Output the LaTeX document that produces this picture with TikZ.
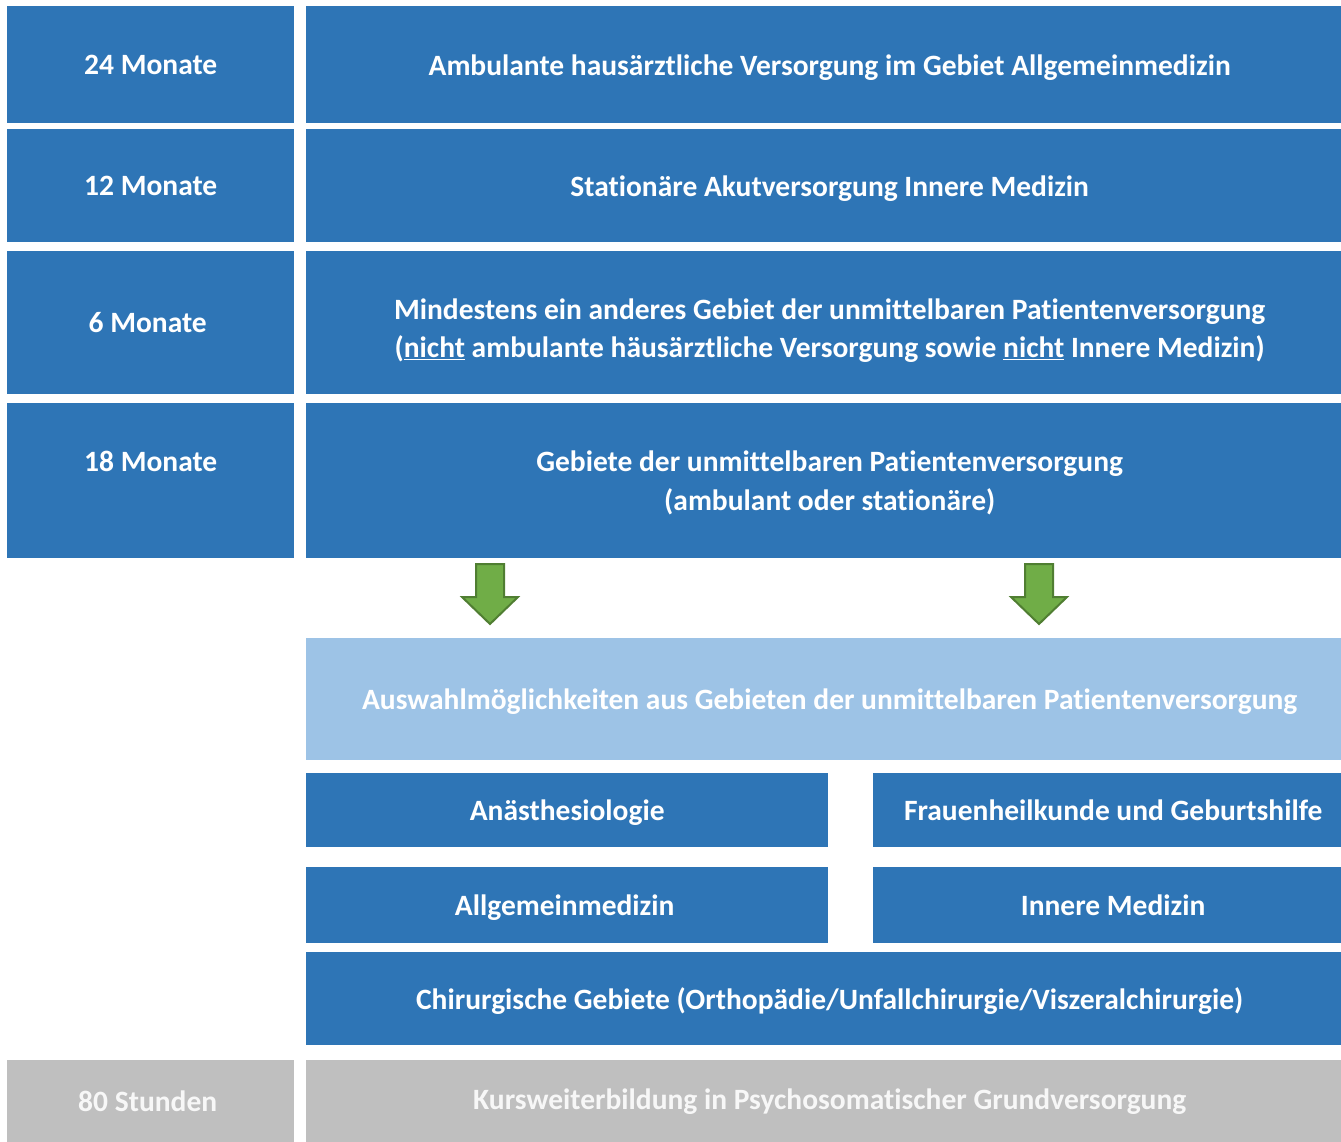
\documentclass[tikz,border=0pt]{standalone}
\usepackage{fontspec}
\setmainfont{Carlito}[Ligatures=NoCommon]
\usepackage{xcolor}
\usepackage{tikz}

\definecolor{blau}{HTML}{2E75B6}
\definecolor{hellblau}{HTML}{9DC3E6}
\definecolor{grau}{HTML}{BFBFBF}
\definecolor{gruen}{HTML}{70AD47}
\definecolor{gruenrand}{HTML}{507E32}

\newcommand{\rein}{\hspace*{12pt}} % Text etwas nach rechts

\begin{document}
\begin{tikzpicture}[
                x=1pt, y=-1pt,                % 1 Pixel = 1pt
                every node/.style={
                    rectangle,
                    anchor=north west,
                    inner sep=0pt,
                    text=white,
                    text depth=0pt,
                    align=center,
                    font=\fontsize{29.5}{38.5}\selectfont\bfseries
                },
                feld/.style={fill=blau},
                auswahl/.style={fill=hellblau},
                kurs/.style={fill=grau, text=white!97!black},
                pfeil/.style={fill=gruen, draw=gruenrand, line width=2pt}
            ]
                \useasboundingbox (0,0) rectangle (1341,1142);

                % linke Spalte
                \node[feld, minimum width=287, minimum height=117] (m24) at (7,6) {24 Monate};
                \node[feld, minimum width=287, minimum height=113] (m12) at (7,129) {12 Monate};
                \node[feld, minimum width=287, minimum height=143] (m6) at (7,251) {\hspace*{-6pt}6 Monate};
                \node[feld, minimum width=287, minimum height=155] (m18) at (7,403) {18 Monate\\\mbox{}}; % Text oben
                \node[kurs, minimum width=287, minimum height=82] (s80) at (7,1060) {\hspace*{-6pt}80 Stunden};

                % rechte Spalte
                \node[feld, minimum width=1035, minimum height=117] (amb) at (306,6) {\rein Ambulante hausärztliche Versorgung im Gebiet Allgemeinmedizin};
                \node[feld, minimum width=1035, minimum height=113] (stat) at (306,129) {\rein Stationäre Akutversorgung Innere Medizin};
                \node[feld, minimum width=1035, minimum height=143] (mind) at (306,251) {\rein\rule{0pt}{32pt}Mindestens ein anderes Gebiet der unmittelbaren Patientenversorgung\\\rein(\underline{nicht} ambulante häusärztliche Versorgung sowie \underline{nicht} Innere Medizin)};
                \node[feld, minimum width=1035, minimum height=155] (geb) at (306,403) {\rein Gebiete der unmittelbaren Patientenversorgung\\\rein(ambulant oder stationäre)};

                % Pfeile
                \foreach \x in {490,1039}
                    \draw[pfeil] (\x-14,564) -- (\x+14,564) -- (\x+14,597) -- (\x+28,597)
                        -- (\x,624) -- (\x-28,597) -- (\x-14,597) -- cycle;

                % Auswahl
                \node[auswahl, minimum width=1035, minimum height=122] (wahl) at (306,638) {\rein Auswahlmöglichkeiten aus Gebieten der unmittelbaren Patientenversorgung};
                \node[feld, minimum width=522, minimum height=74] (anae) at (306,773) {Anästhesiologie};
                \node[feld, minimum width=468, minimum height=74] (frau) at (873,773) {\rein Frauenheilkunde und Geburtshilfe};
                \node[feld, minimum width=522, minimum height=76] (allg) at (306,867) {\hspace*{-5pt}Allgemeinmedizin};
                \node[feld, minimum width=468, minimum height=76] (inn) at (873,867) {\rein Innere Medizin};
                \node[feld, minimum width=1035, minimum height=93] (chir) at (306,952) {\rein Chirurgische Gebiete (Orthopädie/Unfallchirurgie/Viszeralchirurgie)};

                % Kurs
                \node[kurs, minimum width=1035, minimum height=82, text depth=4pt] (psy) at (306,1060) {\rein Kursweiterbildung in Psychosomatischer Grundversorgung};
            \end{tikzpicture}
\end{document}
